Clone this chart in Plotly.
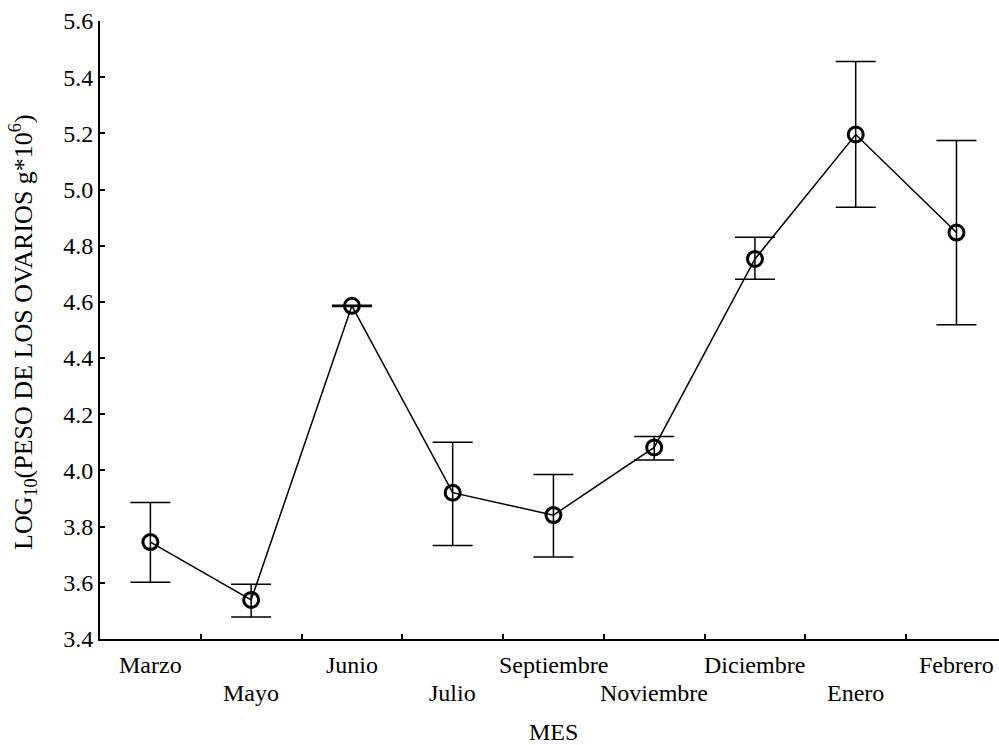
import plotly.graph_objects as go

# Monthly mean log10 ovary weight with error bars
meses = ["Marzo", "Mayo", "Junio", "Julio", "Septiembre",
         "Noviembre", "Diciembre", "Enero", "Febrero"]
media = [3.745, 3.539, 4.586, 3.921, 3.841, 4.082, 4.753, 5.196, 4.847]
limite_sup = [3.886, 3.595, 4.588, 4.100, 3.986, 4.121, 4.830, 5.456, 5.175]
limite_inf = [3.602, 3.478, 4.584, 3.733, 3.692, 4.037, 4.681, 4.937, 4.519]
y_ticks = [3.4, 3.6, 3.8, 4.0, 4.2, 4.4, 4.6, 4.8, 5.0, 5.2, 5.4, 5.6]

x_pos = list(range(len(meses)))
err_up = [s - m for s, m in zip(limite_sup, media)]
err_dn = [m - i for m, i in zip(media, limite_inf)]

FONT = "Liberation Serif"

fig = go.Figure()
fig.add_trace(go.Scatter(
    x=x_pos, y=media,
    mode="lines+markers",
    line=dict(color="black", width=1.5),
    marker=dict(symbol="circle-open", size=15, color="black",
                line=dict(width=3, color="black")),
    error_y=dict(type="data", symmetric=False, array=err_up, arrayminus=err_dn,
                 color="black", thickness=1.5, width=20),
    showlegend=False,
))

# Category labels alternate between two rows under the axis
annotations = []
for i, name in enumerate(meses):
    annotations.append(dict(
        x=i, y=0, xref="x", yref="paper",
        text=name, showarrow=False,
        xanchor="center", yanchor="middle",
        yshift=-26 if i % 2 == 0 else -54,
        font=dict(family=FONT, size=24, color="black"),
    ))
annotations.append(dict(
    x=(-0.5 + 8.5) / 2, y=0, xref="x", yref="paper",
    text="MES", showarrow=False, xanchor="center", yanchor="middle",
    yshift=-93, font=dict(family=FONT, size=24, color="black"),
))
annotations.append(dict(
    x=0, y=0.5, xref="paper", yref="paper",
    text="LOG<sub>10</sub>(PESO DE LOS OVARIOS g*10<sup>6</sup>)",
    showarrow=False, textangle=-90, xanchor="center", yanchor="middle",
    xshift=-77, yshift=-2,
    font=dict(family=FONT, size=26, color="black"),
))

fig.update_layout(
    width=999, height=745,
    margin=dict(l=100, r=0, t=21, b=106),
    paper_bgcolor="white", plot_bgcolor="white",
    font=dict(family=FONT, size=24, color="black"),
    annotations=annotations,
    xaxis=dict(
        range=[-0.5, 8.422],
        tickvals=[i + 0.5 for i in range(len(meses) - 1)],
        ticktext=[""] * (len(meses) - 1),
        ticks="inside", ticklen=5, tickwidth=1.5, tickcolor="black",
        showline=True, linecolor="black", linewidth=2,
        showgrid=False, zeroline=False,
    ),
    yaxis=dict(
        range=[3.4, 5.6],
        tickvals=y_ticks,
        ticktext=[f"{v:.1f}" for v in y_ticks],
        ticks="inside", ticklen=5, tickwidth=1.5, tickcolor="black",
        showline=True, linecolor="black", linewidth=2,
        showgrid=False, zeroline=False,
        tickfont=dict(family=FONT, size=24, color="black"),
    ),
)

fig.write_html("out.html")
